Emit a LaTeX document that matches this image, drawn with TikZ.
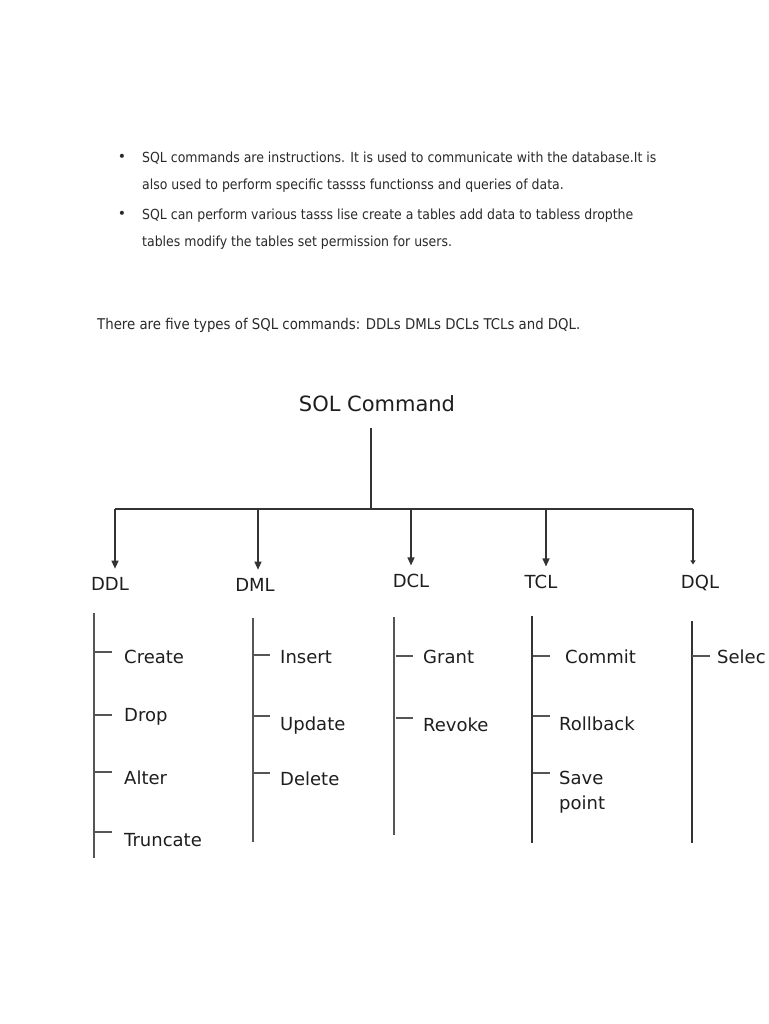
\documentclass[tikz,border=0pt]{standalone}
\usepackage{fontspec}
\setmainfont{DejaVu Sans}
\newfontfamily\bodyfont{DejaVu Sans Condensed}
\usetikzlibrary{arrows.meta,positioning}
\definecolor{Ink}{HTML}{1E1E1E}
\definecolor{Body}{HTML}{2A2A2A}
\definecolor{Rule}{HTML}{333333}
\definecolor{Bar}{HTML}{555555}

\begin{document}
\begin{tikzpicture}[
  x=1pt,y=-1pt,
  para/.style={anchor=base west,inner sep=0pt,text=Body,font=\bodyfont\fontsize{13.9}{16}\selectfont},
  intro/.style={anchor=base west,inner sep=0pt,text=Body,font=\bodyfont\fontsize{14.8}{17}\selectfont},
  dot/.style={inner sep=0pt,text=Body,font=\fontsize{14}{16}\selectfont},
  title/.style={anchor=base,inner sep=0pt,text=Ink,font=\fontsize{21}{24}\selectfont},
  cat/.style={anchor=base,inner sep=0pt,text=Ink,font=\fontsize{18}{21}\selectfont},
  item/.style={anchor=base west,inner sep=0pt,text=Ink,font=\fontsize{18}{21}\selectfont},
  rule/.style={draw=Rule,line width=1.3pt},
  arrow/.style={-{Triangle[length=8pt,width=7pt]},draw=Rule,line width=1.3pt},
  bar/.style={draw=Bar,line width=1.8pt},
  tick/.style={draw=Bar,line width=1.2pt}
]
\useasboundingbox[fill=white] (0,0) rectangle (768,1024);

% text above the chart
\node[dot] (b1) at (122,158) {•};
\node[para] (p1) at (142,163) {SQL commands are instructions. It is used to communicate with the database.It is};
\node[para] (p2) at (142,190) {also used to perform specific tassss functionss and queries of data.};
\node[dot] (b2) at (122,215) {•};
\node[para] (p3) at (142,220) {SQL can perform various tasss lise create a tables add data to tabless dropthe};
\node[para] (p4) at (142,247) {tables modify the tables set permission for users.};
\node[intro] (intro) at (97,329) {There are five types of SQL commands: DDLs DMLs DCLs TCLs and DQL.};

% root and branches
\node[title] (root) at (377,411) {SOL Command};
\coordinate (stem) at (371,428);
\coordinate (hub) at (371,509);
\draw[rule] (stem) -- (hub);

\node[cat] (ddl) at (110,590) {DDL};
\node[cat] (dml) at (255,591) {DML};
\node[cat] (dcl) at (411,587) {DCL};
\node[cat] (tcl) at (541,588) {TCL};
\node[cat] (dql) at (700,588) {DQL};

\coordinate (jddl) at (115,509);
\coordinate (jdml) at (258,509);
\coordinate (jdcl) at (411,509);
\coordinate (jtcl) at (546,509);
\coordinate (jdql) at (693,509);
\draw[rule] (jddl) -- (hub) -- (jdql);
\draw[arrow] (jddl) -- (jddl |- ddl.north) [shorten >=8pt];
\draw[arrow] (jdml) -- (jdml |- dml.north) [shorten >=8pt];
\draw[arrow] (jdcl) -- (jdcl |- dcl.north) [shorten >=8pt];
\draw[arrow] (jtcl) -- (jtcl |- tcl.north) [shorten >=8pt];
\draw[-{Triangle[length=4pt,width=5pt]},draw=Rule,line width=1.3pt] (jdql) -- (jdql |- dql.north) [shorten >=10pt];

% DDL
\draw[bar] (94,613) -- (94,858);
\draw[tick] (94,652) -- ++(18,0);
\draw[tick] (94,715) -- ++(18,0);
\draw[tick] (94,772) -- ++(18,0);
\draw[tick] (94,832) -- ++(18,0);
\node[item] (create) at (124,663) {Create};
\node[item] (drop) at (124,721) {Drop};
\node[item] (alter) at (124,784) {Alter};
\node[item] (truncate) at (124,846) {Truncate};

% DML
\draw[bar] (253,618) -- (253,842);
\draw[tick] (253,655) -- ++(17,0);
\draw[tick] (253,716) -- ++(17,0);
\draw[tick] (253,773) -- ++(17,0);
\node[item] (insert) at (280,663) {Insert};
\node[item] (update) at (280,730) {Update};
\node[item] (delete) at (280,785) {Delete};

% DCL
\draw[bar] (394,617) -- (394,835);
\draw[tick] (396,656) -- ++(17,0);
\draw[tick] (396,718) -- ++(17,0);
\node[item] (grant) at (423,663) {Grant};
\node[item] (revoke) at (423,731) {Revoke};

% TCL
\draw[rule] (532,616) -- (532,843);
\draw[tick] (533,656) -- ++(17,0);
\draw[tick] (533,716) -- ++(17,0);
\draw[tick] (533,773) -- ++(17,0);
\node[item] (commit) at (565,663) {Commit};
\node[item] (rollback) at (559,730) {Rollback};
\node[item,align=left,font=\fontsize{18}{25}\selectfont] (savepoint) at (559,809) {Save\\point};

% DQL
\draw[rule] (692,621) -- (692,843);
\draw[tick] (692,656) -- ++(18,0);
\node[item] (select) at (717,663) {Selec};
\end{tikzpicture}
\end{document}
